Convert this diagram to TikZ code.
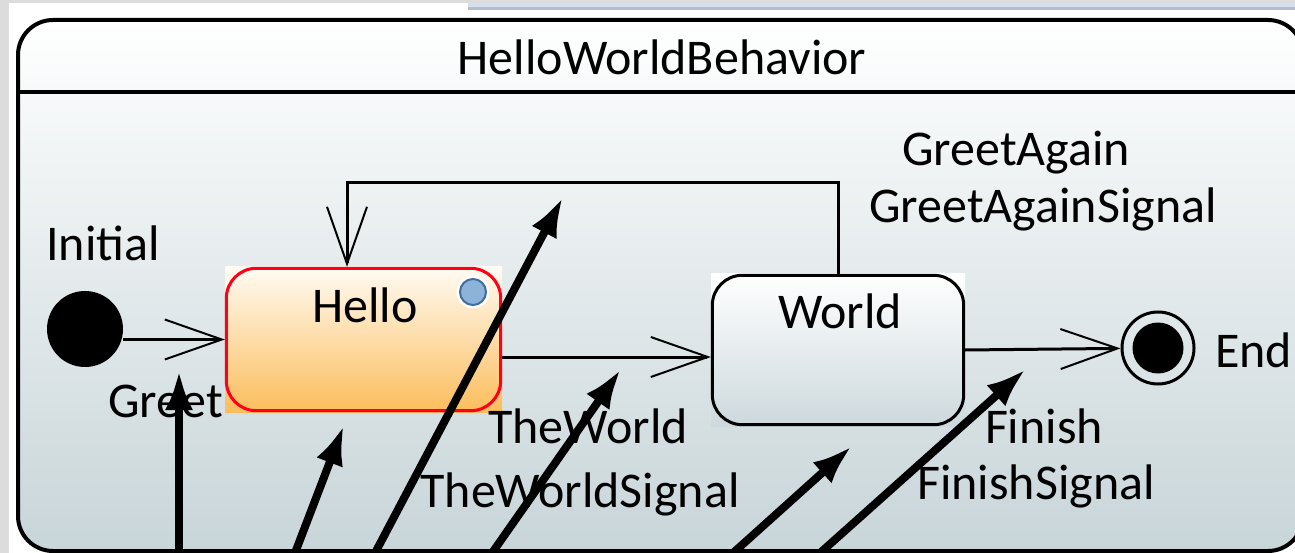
\documentclass[tikz,border=0pt]{standalone}
\usepackage{fontspec}
\setmainfont{Carlito}
\usetikzlibrary{arrows.meta}
\definecolor{winedge}{HTML}{DCDCDC}
\definecolor{tablight}{HTML}{D4E0EE}
\definecolor{tabgray}{HTML}{B8BCD0}
\definecolor{bodybot}{HTML}{C8D5D9}
\definecolor{hellotop}{HTML}{FFFBF3}
\definecolor{hellobot}{HTML}{FBBD5C}
\definecolor{helloline}{HTML}{FF0018}
\definecolor{worldbot}{HTML}{CDD9DD}
\definecolor{dotblue}{HTML}{8DB4D8}
\definecolor{dotedge}{HTML}{3E6E9E}
\begin{document}
\begin{tikzpicture}[x=1pt,y=-1pt]
\tikzset{txt/.style = {font=\fontsize{50}{60}\selectfont, inner sep=0pt, anchor=base},
  trans/.style = {line width=3pt, -{Straight Barb[length=57pt,width=40pt,line width=2pt]}},
  pointer/.style = {line width=8pt, -{Latex[length=40pt,width=28pt]}},
  framebox/.style = {draw, line width=4pt, rounded corners=35pt, top color=white, bottom color=bodybot,
    minimum width=1285pt, minimum height=531pt, inner sep=0pt},
  statebox/.style = {inner sep=0pt, minimum width=#1},
  initst/.style = {circle, fill=black, minimum size=76pt, inner sep=0pt},
  finalst/.style = {circle, draw, line width=3pt, minimum size=72pt, inner sep=0pt},
  dot/.style = {circle, fill=dotblue, draw=dotedge, line width=2pt, minimum size=26pt, inner sep=0pt,
    preaction={draw=white, line width=7pt}}}
\useasboundingbox (0,0) rectangle (1295,553);
\fill[white] (0,0) rectangle (1295,553);
\fill[winedge] (0,0) rectangle (9,553);
\fill[winedge] (0,0) rectangle (1295,3);
\fill[tablight] (468,3) rectangle (1295,7);
\fill[tabgray] (468,7) rectangle (1295,10);
% frame of the behavior
\node[framebox] (bhv) at (660.5,285.5) {};
\draw[line width=4pt] (bhv.west |- 0,92) -- (bhv.east |- 0,92);
\node[txt] (title) at (662,75) {HelloWorldBehavior};
% states
\node[initst] (init) at (85,329) {};
\node[txt, anchor=base west] (initlbl) at (46,261) {Initial};
\node[statebox=277pt, minimum height=145pt, top color=hellotop, bottom color=hellobot] (hello) at (363.5,339.5) {};
\draw[helloline, line width=3pt, rounded corners=30pt] ([xshift=1.5pt,yshift=-1.5pt]hello.north west) rectangle ([xshift=-1.5pt,yshift=1.5pt]hello.south east);
\node[txt] (hellolbl) at (365,322) {Hello};
\node[dot] (hellodot) at (473,292) {};
\node[statebox=254pt, minimum height=152pt, top color=white, bottom color=worldbot] (world) at (838,350) {};
\draw[line width=3pt, rounded corners=30pt] ([xshift=1.5pt,yshift=-1.5pt]world.north west) rectangle ([xshift=-1.5pt,yshift=1.5pt]world.south east);
\node[txt] (worldlbl) at (840,328) {World};
\node[finalst] (fin) at (1158,348) {};
\node[circle, fill=black, minimum size=51pt, inner sep=0pt] (finin) at (fin) {};
\node[txt, anchor=base west] (finlbl) at (1215,367) {End};
% transitions
\draw[trans] (init.east |- hello.west) -- (hello.west);
\node[txt, anchor=base west] (greetlbl) at (108,417) {Greet};
\draw[trans] (hello.east |- 0,357) -- (world.west |- 0,357);
\node[txt] (theworld) at (588,443) {TheWorld};
\node[txt] (theworldsig) at (580,507) {TheWorldSignal};
\coordinate (loopL) at (347,183);
\draw[trans] (world.north) |- (loopL) -- (loopL |- hello.north);
\node[txt] (again) at (1016,166) {GreetAgain};
\node[txt] (againsig) at (1043,223) {GreetAgainSignal};
\draw[trans] (world.east) -- (fin);
\node[txt] (finish) at (1044,443) {Finish};
\node[txt] (finishsig) at (1036,499) {FinishSignal};
% pointers
\coordinate (p1s) at (179,565);   \coordinate (p1e) at (179,370);
\coordinate (p2s) at (290.4,565); \coordinate (p2e) at (344,425);
\coordinate (p3s) at (368.7,565); \coordinate (p3e) at (563,197);
\coordinate (p4s) at (483.6,565); \coordinate (p4e) at (621,369);
\coordinate (p5s) at (719.7,565); \coordinate (p5e) at (852,446);
\coordinate (p6s) at (806.6,565); \coordinate (p6e) at (1026,369);
\foreach \i in {1,...,6}
  \draw[pointer] (p\i s) -- (p\i e);
\end{tikzpicture}
\end{document}
